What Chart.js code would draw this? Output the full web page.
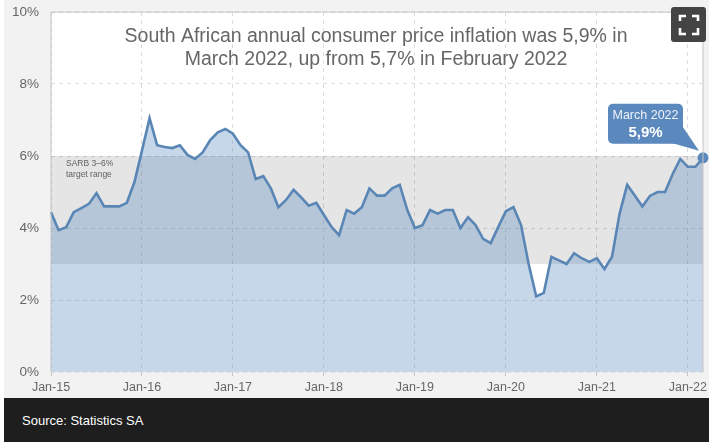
<!DOCTYPE html>
<html><head><meta charset="utf-8">
<script src="https://cdn.jsdelivr.net/npm/chart.js@4"></script>
<style>
html,body{margin:0;padding:0;background:#fff;width:709px;height:442px;overflow:hidden;font-family:"Liberation Sans",Arial,sans-serif}
#bg{position:absolute;left:4px;top:0;width:705px;height:398px;background:#f2f2f2}
#wrap{position:absolute;left:0;top:0;width:709px;height:398px}
#foot{position:absolute;left:4px;top:398px;width:705px;height:44px;background:#1e1e1e;color:#fff;font-size:13px;line-height:46px;padding-left:18px;box-sizing:border-box}
#icon{position:absolute;left:671px;top:7px;width:35px;height:35px}
</style></head><body>
<div id="bg"></div>
<div id="wrap"><canvas id="c" width="709" height="398"></canvas></div>
<svg id="icon" viewBox="0 0 35 35"><rect width="35" height="35" rx="3" fill="#444"/><path d="M9 14V9h6M21 9h6v5M27 21v6h-6M15 27H9v-6" fill="none" stroke="#fff" stroke-width="2.6"/></svg>
<div id="foot">Source: Statistics SA</div>
<script>
const categories = [
"Jan-15","Feb-15","Mar-15","Apr-15","May-15","Jun-15","Jul-15","Aug-15","Sep-15","Oct-15","Nov-15","Dec-15",
"Jan-16","Feb-16","Mar-16","Apr-16","May-16","Jun-16","Jul-16","Aug-16","Sep-16","Oct-16","Nov-16","Dec-16",
"Jan-17","Feb-17","Mar-17","Apr-17","May-17","Jun-17","Jul-17","Aug-17","Sep-17","Oct-17","Nov-17","Dec-17",
"Jan-18","Feb-18","Mar-18","Apr-18","May-18","Jun-18","Jul-18","Aug-18","Sep-18","Oct-18","Nov-18","Dec-18",
"Jan-19","Feb-19","Mar-19","Apr-19","May-19","Jun-19","Jul-19","Aug-19","Sep-19","Oct-19","Nov-19","Dec-19",
"Jan-20","Feb-20","Mar-20","Apr-20","May-20","Jun-20","Jul-20","Aug-20","Sep-20","Oct-20","Nov-20","Dec-20",
"Jan-21","Feb-21","Mar-21","Apr-21","May-21","Jun-21","Jul-21","Aug-21","Sep-21","Oct-21","Nov-21","Dec-21",
"Jan-22","Feb-22","Mar-22"];
const inflation = [
4.44,3.94,4.02,4.44,4.55,4.67,4.97,4.6,4.6,4.6,4.7,5.27,
6.15,7.05,6.3,6.25,6.22,6.3,6.03,5.92,6.1,6.44,6.66,6.75,
6.62,6.3,6.1,5.36,5.44,5.1,4.58,4.78,5.06,4.85,4.62,4.7,
4.36,4.03,3.8,4.5,4.4,4.58,5.1,4.9,4.9,5.1,5.2,4.5,
4.0,4.08,4.5,4.4,4.5,4.5,4.0,4.3,4.08,3.7,3.58,4.03,
4.47,4.58,4.08,3.0,2.1,2.2,3.2,3.1,3.0,3.3,3.16,3.06,
3.16,2.86,3.2,4.4,5.2,4.9,4.6,4.89,5.0,5.0,5.5,5.92,
5.7,5.7,5.95];
const bandTop = categories.map(() => 6);
const bandBottom = categories.map(() => 3);
const titleLines = ["South African annual consumer price inflation was 5,9% in","March 2022, up from 5,7% in February 2022"];
const bandLabel = ["SARB 3–6%","target range"];
const calloutLabel = "March 2022";
const calloutValue = "5,9%";

const plotBg = {id:"plotBg",beforeDraw(ch){const a=ch.chartArea,x=ch.ctx;x.save();x.fillStyle="#fff";x.fillRect(a.left,a.top,a.right-a.left,a.bottom-a.top);x.restore();}};
const frame = {id:"frame",afterDatasetsDraw(ch){const a=ch.chartArea,x=ch.ctx;x.save();x.strokeStyle="#c4c4c4";x.lineWidth=1;
  x.beginPath();x.moveTo(a.left,a.bottom);x.lineTo(a.left,a.top);x.lineTo(a.right,a.top);x.lineTo(a.right,a.bottom);x.stroke();x.restore();}};
const notes = {id:"notes",afterDraw(ch){const x=ch.ctx,sx=ch.scales.x,sy=ch.scales.y;x.save();
  x.textBaseline="middle";x.textAlign="center";x.fillStyle="#666";x.font='19.5px "Liberation Sans",Arial,sans-serif';
  x.fillText(titleLines[0],376,37);x.fillText(titleLines[1],376,60);
  x.textAlign="left";x.font='8.5px "Liberation Sans",Arial,sans-serif';x.fillStyle="#606060";
  x.fillText(bandLabel[0],66,163.5);x.fillText(bandLabel[1],66,174.5);
  const i=inflation.length-1,px=sx.getPixelForValue(i),py=sy.getPixelForValue(inflation[i]);
  const l=px-95,t=py-54,w=75,h=40;
  x.fillStyle="#5b88bd";x.beginPath();x.roundRect(l,t,w,h,5);x.fill();
  x.beginPath();x.moveTo(l+w-1,t+22);x.lineTo(px-4,py-7);x.lineTo(l+w-12,t+h-1);x.closePath();x.fill();
  x.textAlign="center";x.fillStyle="#eef3f9";x.font='12.5px "Liberation Sans",Arial,sans-serif';
  x.fillText(calloutLabel,l+w/2,t+11.5);
  x.fillStyle="#fff";x.font='bold 15px "Liberation Sans",Arial,sans-serif';x.fillText(calloutValue,l+w/2,t+29);
  x.restore();}};

new Chart(document.getElementById("c"),{
  type:"line",
  data:{labels:categories,datasets:[
    {label:"Inflation",data:inflation,order:1,borderColor:"#5a86b5",borderWidth:2.6,borderJoinStyle:"miter",tension:0,clip:false,
     backgroundColor:"rgba(92,141,192,0.35)",fill:"origin",
     pointRadius:c=>c.dataIndex===inflation.length-1?5.5:0,pointBackgroundColor:"#5b88bd",pointBorderWidth:0},
    {label:"Top",data:bandTop,order:2,borderColor:"transparent",borderWidth:0,pointRadius:0,fill:2,backgroundColor:"rgba(0,0,0,0.1)"},
    {label:"Bottom",data:bandBottom,order:3,borderColor:"transparent",borderWidth:0,pointRadius:0,fill:false}
  ]},
  options:{
    responsive:false,animation:false,devicePixelRatio:1,
    layout:{padding:{top:12,right:6,left:0,bottom:0}},
    plugins:{legend:{display:false},tooltip:{enabled:false}},
    scales:{
      x:{type:"category",offset:false,
        afterFit(s){s.height=26;s.paddingLeft=0;s.paddingRight=0;},
        border:{display:false,dash:[4,4]},
        grid:{drawTicks:true,tickLength:4,tickColor:c=>c.index%12===0?"#c4c4c4":"transparent",
              color:c=>c.index%12===0?"#dcdcdc":"transparent",lineWidth:1,tickBorderDash:[],drawOnChartArea:true},
        ticks:{autoSkip:false,maxRotation:0,minRotation:0,padding:4,color:"#666",font:{family:'"Liberation Sans",Arial,sans-serif',size:12.5},
               callback(v,i){return i%12===0?categories[i]:"";}}},
      y:{min:0,max:10,
        afterFit(s){s.width=51;s.paddingTop=0;s.paddingBottom=0;},
        border:{display:false,dash:[4,4]},
        grid:{color:"#dcdcdc",lineWidth:1,drawTicks:false},
        ticks:{stepSize:2,padding:12,color:"#666",font:{family:'"Liberation Sans",Arial,sans-serif',size:13.5},callback:v=>v+"%"}}
    }
  },
  plugins:[plotBg,frame,notes]
});
</script>
</body></html>
